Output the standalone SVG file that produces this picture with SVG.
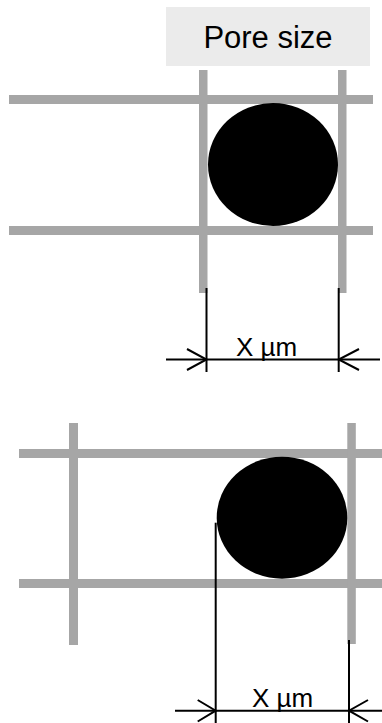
<svg xmlns="http://www.w3.org/2000/svg" width="382" height="723" viewBox="0 0 382 723">
<style>
.bar{fill:#a6a6a6}
.dim{stroke:#000;stroke-width:2;fill:none}
.lbl{font-family:"Liberation Sans",Arial,sans-serif;fill:#000}
</style>
<rect width="382" height="723" fill="#fff"/>
<g id="label-box">
<rect x="166" y="7" width="204" height="59" fill="#ebebeb"/>
<text class="lbl" x="268" y="48" font-size="31" text-anchor="middle">Pore size</text>
</g>
<g id="mesh-top">
<rect class="bar" x="9" y="95" width="364" height="9"/>
<rect class="bar" x="9" y="226" width="364" height="9"/>
<rect class="bar" x="199" y="70" width="8.5" height="223"/>
<rect class="bar" x="338" y="70" width="8.5" height="223"/>
<ellipse cx="273" cy="164.5" rx="65" ry="61.5" fill="#000"/>
</g>
<g id="mesh-bottom">
<rect class="bar" x="19" y="449" width="363" height="9"/>
<rect class="bar" x="19" y="579" width="363" height="9"/>
<rect class="bar" x="69" y="423" width="9" height="222"/>
<rect class="bar" x="347.3" y="423" width="8.5" height="221"/>
<ellipse cx="282" cy="517.7" rx="65.3" ry="61" fill="#000"/>
</g>
<g id="connectors">
<line class="dim" x1="206.5" y1="288" x2="206.5" y2="372"/>
<line class="dim" x1="338.7" y1="288" x2="338.7" y2="372" stroke-width="3"/>
<line class="dim" x1="166" y1="359.5" x2="380" y2="359.5"/>
<polyline class="dim" points="187,349 206.5,359.5 187,370"/>
<polyline class="dim" points="359,349 338.7,359.5 359,370"/>
<line class="dim" x1="215.7" y1="522.7" x2="215.7" y2="723"/>
<line class="dim" x1="349" y1="640" x2="349" y2="723"/>
<line class="dim" x1="175" y1="710.7" x2="382" y2="710.7"/>
<polyline class="dim" points="197.7,700 215.7,710.7 197.7,721.5"/>
<polyline class="dim" points="368,700 349,710.7 368,721.5"/>
</g>
<g id="dim-labels">
<text class="lbl" x="266.5" y="356" font-size="26" text-anchor="middle">X µm</text>
<text class="lbl" x="282.5" y="707" font-size="26" text-anchor="middle">X µm</text>
</g>
</svg>
